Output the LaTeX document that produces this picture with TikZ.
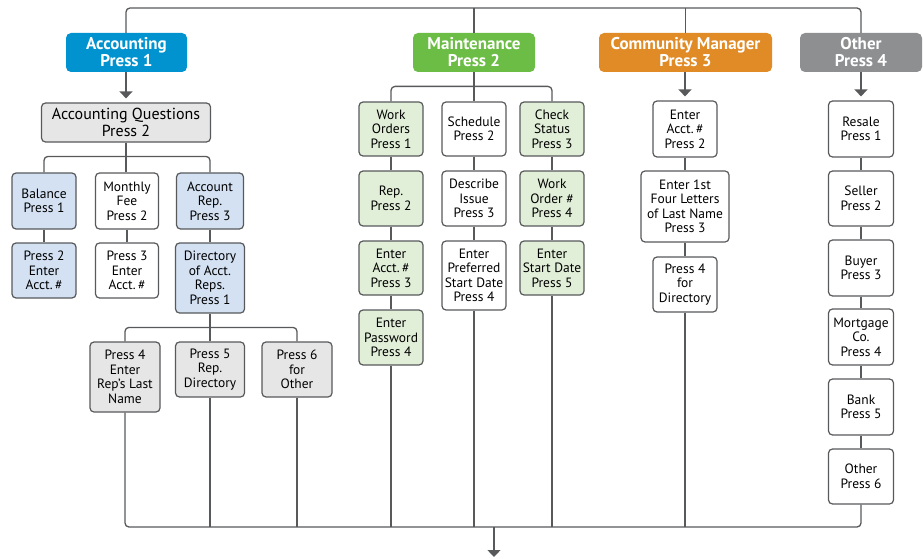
\documentclass[tikz,border=0pt]{standalone}
\usepackage{fontspec}
\setmainfont{PT Sans}
\usetikzlibrary{arrows.meta}
\definecolor{ln}{HTML}{58595B}
\definecolor{acblue}{HTML}{0093D0}
\definecolor{mtgreen}{HTML}{6CBD45}
\definecolor{cmorange}{HTML}{E08B26}
\definecolor{otgray}{HTML}{8D8F91}
\definecolor{ltblue}{HTML}{D3E1F3}
\definecolor{ltgreen}{HTML}{E1EED8}
\definecolor{ltgray}{HTML}{E6E6E6}
\begin{document}
\begin{tikzpicture}[x=1pt, y=-1pt,
    hdr/.style={rounded corners=5pt, text=white, align=center, inner sep=0pt,
      font=\fontsize{17}{17}\selectfont\bfseries, minimum height=39pt},
    box/.style={draw=ln, line width=1.2pt, rounded corners=4pt, align=center, inner sep=0pt,
      font=\fontsize{13.5}{14.5}\selectfont, minimum width=64pt},
    wire/.style={draw=ln, line width=1.3pt},
    arr/.style={wire, -{Triangle[width=13pt,length=7pt]}, shorten >=4pt}]
  \useasboundingbox (0,0) rectangle (923,559);
  \coordinate (top) at (0,8);
  \coordinate (bot) at (494,527);
  % headers
  \node[hdr, fill=acblue, minimum width=121pt] (acct) at (126.5,52.5) {Accounting\\Press 1};
  \node[hdr, fill=mtgreen, minimum width=122pt] (mnt) at (474,52.5) {Maintenance\\Press 2};
  \node[hdr, fill=cmorange, minimum width=173pt] (cmg) at (685.5,52.5) {Community Manager\\Press 3};
  \node[hdr, fill=otgray, minimum width=122pt] (oth) at (861,52.5) {Other\\Press 4};
  % accounting
  \node[box, fill=ltgray, minimum width=169pt, minimum height=39pt,
    font=\fontsize{16}{16.5}\selectfont] (acq) at (126,122.5) {Accounting Questions\\Press 2};
  \node[box, fill=ltblue, minimum height=56pt] (bal) at (44,201) {Balance\\Press 1};
  \node[box, fill=white, minimum width=63pt, minimum height=56pt] (fee) at (127,201) {Monthly\\Fee\\Press 2};
  \node[box, fill=ltblue, minimum width=67pt, minimum height=56pt] (rep) at (210,201) {Account\\Rep.\\Press 3};
  \node[box, fill=ltblue, minimum height=55pt] (bal2) at (44,270.5) {Press 2\\Enter\\Acct.\,\#};
  \node[box, fill=white, minimum width=63pt, minimum height=55pt] (fee2) at (127,270.5) {Press 3\\Enter\\Acct.\,\#};
  \node[box, fill=ltblue, minimum width=69pt, minimum height=70pt] (dir) at (210,278) {Directory\\of Acct.\\Reps.\\Press 1};
  \node[box, fill=ltgray, minimum width=70pt, minimum height=70pt] (p4) at (125,377) {Press 4\\Enter\\Rep’s Last\\Name};
  \node[box, fill=ltgray, minimum width=69pt, minimum height=55pt] (p5) at (210,369.5) {Press 5\\Rep.\\Directory};
  \node[box, fill=ltgray, minimum width=70pt, minimum height=55pt] (p6) at (297,369.5) {Press 6\\for\\Other};
  % maintenance
  \node[box, fill=ltgreen, minimum height=54pt] (wo) at (391,129) {Work\\Orders\\Press 1};
  \node[box, fill=white, minimum height=54pt] (sch) at (474,129) {Schedule\\Press 2};
  \node[box, fill=ltgreen, minimum height=54pt] (chk) at (552,129) {Check\\Status\\Press 3};
  \node[box, fill=ltgreen, minimum height=55pt] (mrep) at (391,198.5) {Rep.\\Press 2};
  \node[box, fill=white, minimum height=55pt] (dsc) at (474,198.5) {Describe\\Issue\\Press 3};
  \node[box, fill=ltgreen, minimum height=55pt] (won) at (552,198.5) {Work\\Order \#\\Press 4};
  \node[box, fill=ltgreen, minimum height=54pt] (macc) at (391,268) {Enter\\Acct.\,\#\\Press 3};
  \node[box, fill=white, minimum height=69pt] (pref) at (474,275.5) {Enter\\Preferred\\Start Date\\Press 4};
  \node[box, fill=ltgreen, minimum height=54pt] (sd) at (552,268) {Enter\\Start Date\\Press 5};
  \node[box, fill=ltgreen, minimum height=55pt] (pwd) at (391,337.5) {Enter\\Password\\Press 4};
  % community manager
  \node[box, fill=white, minimum height=56pt] (cacc) at (685,129) {Enter\\Acct.\,\#\\Press 2};
  \node[box, fill=white, minimum width=88pt, minimum height=71pt] (cname) at (685,206.5) {Enter 1st\\Four Letters\\of Last Name\\Press 3};
  \node[box, fill=white, minimum height=55pt] (cdir) at (685,284.5) {Press 4\\for\\Directory};
  % other
  \node[box, fill=white, minimum width=65pt, minimum height=56pt] (res) at (861,129) {Resale\\Press 1};
  \node[box, fill=white, minimum width=65pt, minimum height=55pt] (sel) at (861,198.5) {Seller\\Press 2};
  \node[box, fill=white, minimum width=65pt, minimum height=56pt] (buy) at (861,268) {Buyer\\Press 3};
  \node[box, fill=white, minimum width=65pt, minimum height=56pt] (mort) at (861,337) {Mortgage\\Co.\\Press 4};
  \node[box, fill=white, minimum width=65pt, minimum height=56pt] (bank) at (861,407) {Bank\\Press 5};
  \node[box, fill=white, minimum width=65pt, minimum height=55pt] (ooth) at (861,476.5) {Other\\Press 6};
  % top bar
  \draw[wire, rounded corners=4pt] (acct.north -| acq.north) |- (oth.north |- top) -- (oth.north);
  \draw[wire] (mnt.north) -- (mnt.north |- top);
  \draw[wire] (cmg.north) -- (cmg.north |- top);
  % accounting links
  \draw[arr] (acct.south -| acq.north) -- (acq.north);
  \draw[wire] (acq.south) -- (acq.south |- fee.north);
  \draw[wire, rounded corners=4pt] (bal.north) -- ++(0,-16) -| (rep.north);
  \draw[wire] (bal) -- (bal2);
  \draw[wire] (fee) -- (fee2);
  \draw[wire] (rep) -- (dir);
  \draw[wire] (dir.south) -- (p5.north);
  \draw[wire, rounded corners=4pt] (p4.north) -- ++(0,-14) -| (p6.north);
  % maintenance links
  \draw[wire] (mnt.south) -- (sch.north);
  \draw[wire, rounded corners=4pt] (wo.north) -- ++(0,-15) -| (chk.north);
  \draw[wire] (wo) -- (mrep) -- (macc) -- (pwd);
  \draw[wire] (sch) -- (dsc) -- (pref);
  \draw[wire] (chk) -- (won) -- (sd);
  % community manager links
  \draw[arr] (cmg.south -| cacc.north) -- (cacc.north);
  \draw[wire] (cacc) -- (cname) -- (cdir);
  % other links
  \draw[arr] (oth.south -| res.north) -- (res.north);
  \draw[wire] (res) -- (sel) -- (buy) -- (mort) -- (bank) -- (ooth);
  % bottom bar
  \draw[wire, rounded corners=4pt] (p4.south) |- (bot) -| (ooth.south);
  \foreach \n in {p5, p6, pwd, pref, sd, cdir}
    \draw[wire] (\n.south) -- (\n.south |- bot);
  \draw[arr, shorten >=0pt] (bot) -- ++(0,30);
\end{tikzpicture}
\end{document}
